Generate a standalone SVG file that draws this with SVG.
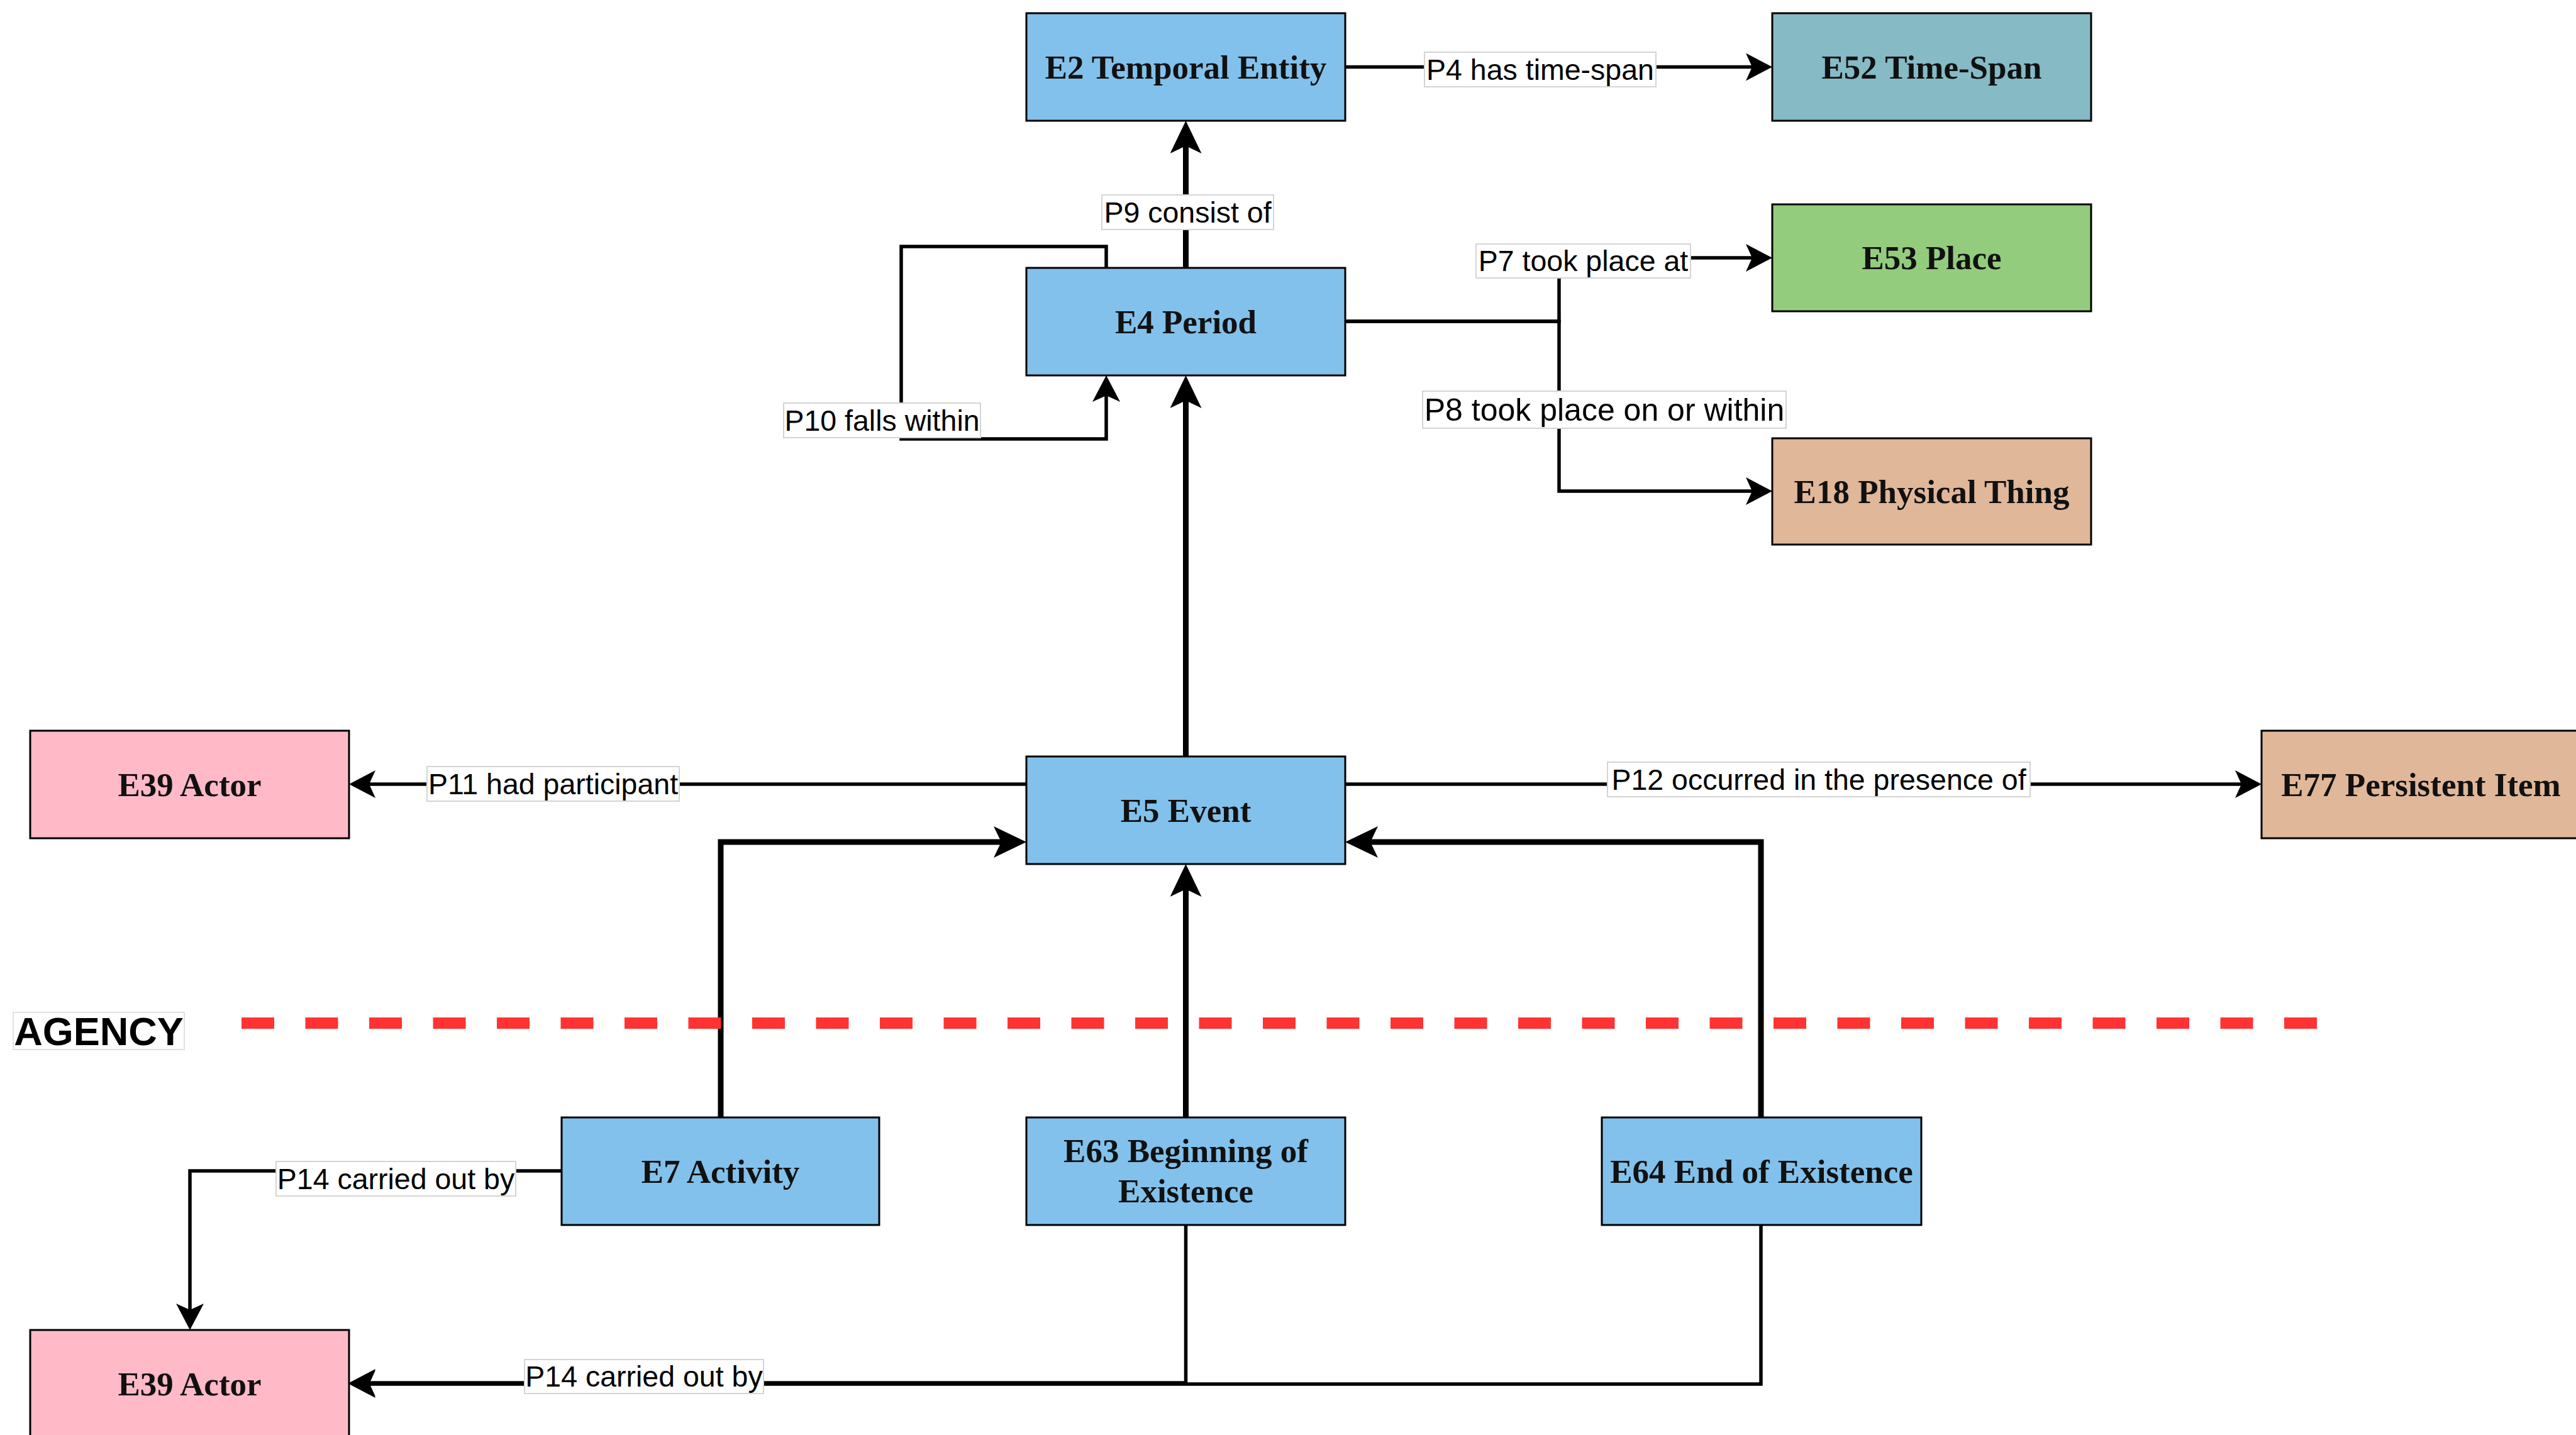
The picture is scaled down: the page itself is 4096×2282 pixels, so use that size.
<svg xmlns="http://www.w3.org/2000/svg" width="4096" height="2282" viewBox="0 0 4096 2282">
<style>
.node rect{stroke:#000;stroke-width:3}
.blue{fill:#82C1EB}
.teal{fill:#86BAC5}
.green{fill:#93CC7D}
.tan{fill:#E0B799}
.pink{fill:#FFB9C7}
.nt{font-family:"Liberation Serif","Times New Roman",serif;font-weight:bold;font-size:53px;fill:#111;text-anchor:middle;dominant-baseline:central}
.thin{fill:none;stroke:#000;stroke-width:5.5;marker-end:url(#arrThin)}
.thick{fill:none;stroke:#000;stroke-width:9;marker-end:url(#arrThick)}
.lbl rect{fill:#fff;stroke:#d4d4d4;stroke-width:2}
.lt{font-family:"Liberation Sans",Arial,Helvetica,sans-serif;font-size:46.5px;fill:#000;text-anchor:middle;dominant-baseline:central}
</style>
<defs>
<marker id="arrThick" markerUnits="userSpaceOnUse" viewBox="0 0 52 50" markerWidth="52" markerHeight="50" refX="32" refY="25" orient="auto">
<path d="M0,0 L52,25 L0,50 L12,25 Z" fill="#000"/>
</marker>
<marker id="arrThin" markerUnits="userSpaceOnUse" viewBox="0 0 42 44" markerWidth="42" markerHeight="44" refX="30" refY="22" orient="auto">
<path d="M0,0 L42,22 L0,44 L10,22 Z" fill="#000"/>
</marker>
</defs>
<rect x="0" y="0" width="4096" height="2282" fill="#fff"/>

<g id="connectors">
<path id="e-p9" class="thick" d="M1885.5,426 V212"/>
<path id="e-e5-e4" class="thick" d="M1885.5,1203 V617"/>
<path id="e-e7-e5" class="thick" d="M1146,1777 V1339 H1612"/>
<path id="e-e63-e5" class="thick" d="M1885.5,1777 V1394"/>
<path id="e-e64-e5" class="thick" d="M2800,1777 V1339 H2159"/>
<path id="e-p4" class="thin" d="M2139,106.5 H2806"/>
<path id="e-p10" class="thin" d="M1759,426 V392 H1433 V698 H1759 V609"/>
<path id="e-p7" class="thin" d="M2139,511 H2479 V410 H2806"/>
<path id="e-p8" class="thin" d="M2139,511 H2479 V781 H2806"/>
<path id="e-p11" class="thin" d="M1632,1247 H567"/>
<path id="e-p12" class="thin" d="M2139,1247 H3584"/>
<path id="e-p14a" class="thin" d="M893,1862 H302 V2103"/>
<path id="e-p14c" class="thin" d="M2800,1948 V2201 H567"/>
<path id="e-p14b" class="thin" d="M1885.5,1948 V2199 H567"/>
</g>

<g id="edge-labels">
<g class="lbl"><rect x="2265" y="83" width="368" height="55"/><text class="lt" x="2449" y="110.5">P4 has time-span</text></g>
<g class="lbl"><rect x="1752" y="310" width="273" height="55"/><text class="lt" x="1888.5" y="337.5">P9 consist of</text></g>
<g class="lbl"><rect x="1246" y="641" width="313" height="55"/><text class="lt" x="1402.5" y="668.5">P10 falls within</text></g>
<g class="lbl"><rect x="2347" y="388" width="341" height="54"/><text class="lt" x="2517.5" y="415">P7 took place at</text></g>
<g class="lbl"><rect x="2262" y="622" width="578" height="59"/><text class="lt" x="2551" y="651.5" style="font-size:50px">P8 took place on or within</text></g>
<g class="lbl"><rect x="679" y="1219" width="401" height="55"/><text class="lt" x="879.5" y="1246.5">P11 had participant</text></g>
<g class="lbl"><rect x="2556" y="1212" width="672" height="55"/><text class="lt" x="2892" y="1239.5">P12 occurred in the presence of</text></g>
<g class="lbl"><rect x="439" y="1847" width="381" height="55"/><text class="lt" x="629.5" y="1874.5">P14 carried out by</text></g>
<g class="lbl"><rect x="834" y="2162" width="380" height="54"/><text class="lt" x="1024" y="2189">P14 carried out by</text></g>
</g>

<g id="agency">
<line x1="384" y1="1627" x2="3684" y2="1627" stroke="#FF3333" stroke-width="18" stroke-dasharray="52 49.5"/>
<rect x="21" y="1610" width="272" height="59" fill="#fff" stroke="#e0e0e0" stroke-width="2"/>
<text x="157" y="1640" style="font-family:'Liberation Sans',Arial,sans-serif;font-weight:bold;font-size:63px;fill:#000;text-anchor:middle;dominant-baseline:central">AGENCY</text>
</g>

<g id="E2" class="node"><rect class="blue" x="1632" y="21" width="507" height="171"/><text class="nt" x="1885.5" y="106.5">E2 Temporal Entity</text></g>
<g id="E52" class="node"><rect class="teal" x="2818" y="21" width="507" height="171"/><text class="nt" x="3071.5" y="106.5">E52 Time-Span</text></g>
<g id="E4" class="node"><rect class="blue" x="1632" y="426" width="507" height="171"/><text class="nt" x="1885.5" y="511.5">E4 Period</text></g>
<g id="E53" class="node"><rect class="green" x="2818" y="325" width="507" height="170"/><text class="nt" x="3071.5" y="410">E53 Place</text></g>
<g id="E18" class="node"><rect class="tan" x="2818" y="697" width="507" height="169"/><text class="nt" x="3071.5" y="781.5">E18 Physical Thing</text></g>
<g id="E39a" class="node"><rect class="pink" x="48" y="1162" width="507" height="171"/><text class="nt" x="301.5" y="1247.5">E39 Actor</text></g>
<g id="E5" class="node"><rect class="blue" x="1632" y="1203" width="507" height="171"/><text class="nt" x="1885.5" y="1288.5">E5 Event</text></g>
<g id="E77" class="node"><rect class="tan" x="3596" y="1162" width="507" height="171"/><text class="nt" x="3849.5" y="1247.5">E77 Persistent Item</text></g>
<g id="E7" class="node"><rect class="blue" x="893" y="1777" width="505" height="171"/><text class="nt" x="1145.5" y="1862.5">E7 Activity</text></g>
<g id="E63" class="node"><rect class="blue" x="1632" y="1777" width="507" height="171"/><text class="nt" x="1885.5" y="1830">E63 Beginning of</text><text class="nt" x="1885.5" y="1894">Existence</text></g>
<g id="E64" class="node"><rect class="blue" x="2547" y="1777" width="508" height="171"/><text class="nt" x="2801" y="1862.5">E64 End of Existence</text></g>
<g id="E39b" class="node"><rect class="pink" x="48" y="2115" width="507" height="171"/><text class="nt" x="301.5" y="2200.5">E39 Actor</text></g>
</svg>
